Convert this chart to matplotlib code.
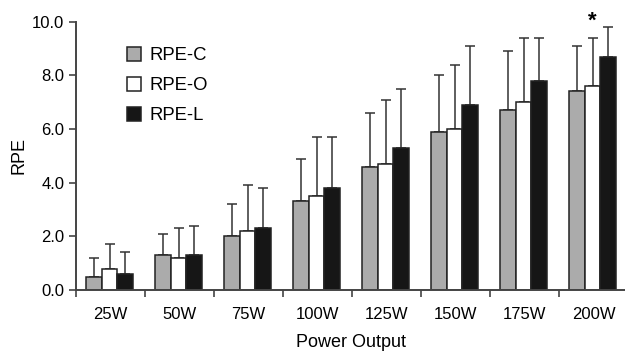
import numpy as np
import matplotlib.pyplot as plt
from matplotlib.patches import Patch

plt.rcParams['font.family'] = ['Liberation Sans', 'DejaVu Sans']

# data
categories = ['25W', '50W', '75W', '100W', '125W', '150W', '175W', '200W']
rpe_c = [0.5, 1.3, 2.0, 3.3, 4.6, 5.9, 6.7, 7.4]
rpe_o = [0.8, 1.2, 2.2, 3.5, 4.7, 6.0, 7.0, 7.6]
rpe_l = [0.6, 1.3, 2.3, 3.8, 5.3, 6.9, 7.8, 8.7]
sd_c = [0.7, 0.8, 1.2, 1.6, 2.0, 2.1, 2.2, 1.7]
sd_o = [0.9, 1.1, 1.7, 2.2, 2.4, 2.4, 2.4, 1.8]
sd_l = [0.8, 1.1, 1.5, 1.9, 2.2, 2.2, 1.6, 1.1]

fig = plt.figure(figsize=(6.25, 3.52), dpi=100)
ax = fig.add_axes([76 / 625, 1 - 290 / 352, 1 - 76 / 625, (290 - 21.7) / 352])

x = np.arange(len(categories))
width = 0.226
series = [(rpe_c, sd_c, '#ababab', 'RPE-C'),
          (rpe_o, sd_o, '#ffffff', 'RPE-O'),
          (rpe_l, sd_l, '#161616', 'RPE-L')]
offsets = [0.26, 0.486, 0.712]

handles = []
for (vals, sd, col, lab), off in zip(series, offsets):
    ax.bar(x + off, vals, width, color=col, edgecolor='#222222', linewidth=1.1, zorder=2)
    ax.errorbar(x + off, vals, yerr=[np.zeros(len(vals)), sd], fmt='none',
                ecolor='#333333', elinewidth=1.1, capsize=3.6, capthick=1.1, zorder=1)
    handles.append(Patch(facecolor=col, edgecolor='#222222', linewidth=1.1, label=lab))

# significance marker
ax.text(x[-1] + offsets[1], rpe_o[-1] + sd_o[-1] + 0.6, '*', ha='center', va='center',
        fontsize=16, fontweight='bold', clip_on=False)

ax.set_xlim(0, (625 - 76) / 69)
ax.set_ylim(0, 10)
ax.set_yticks(np.arange(0, 10.1, 2))
ax.set_yticklabels(['%.1f' % v for v in np.arange(0, 10.1, 2)], fontsize=12)
ax.set_xticks(np.arange(0, 8))
ax.set_xticklabels([])
ax.set_xticks(x + 0.5, minor=True)
ax.set_xticklabels(categories, minor=True, fontsize=12)
ax.tick_params(axis='x', which='minor', length=0, pad=12)
ax.tick_params(axis='x', which='major', length=5, width=1.2, color='#444444', direction='out')
ax.tick_params(axis='y', length=5, width=1.2, color='#444444', direction='out')

for s in ['top', 'right']:
    ax.spines[s].set_visible(False)
for s in ['left', 'bottom']:
    ax.spines[s].set_linewidth(1.4)
    ax.spines[s].set_color('#444444')

ax.set_ylabel('RPE', fontsize=13, labelpad=3)
ax.set_xlabel('Power Output', fontsize=13, labelpad=9)

ax.legend(handles=handles, loc='upper left', bbox_to_anchor=(127 / 625, 1 - 47 / 352),
          bbox_transform=fig.transFigure, frameon=False, fontsize=13.3,
          handlelength=0.78, handleheight=0.78, handletextpad=0.45,
          labelspacing=0.68, borderpad=0, borderaxespad=0)

fig.savefig('out.png', dpi=100)
